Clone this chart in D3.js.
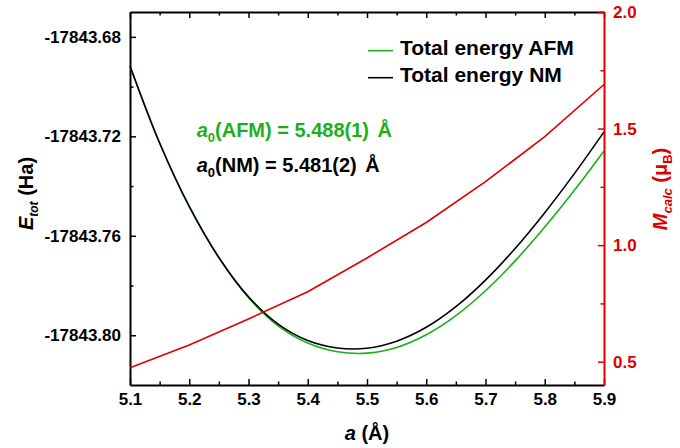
<!DOCTYPE html>
<html>
<head>
<meta charset="utf-8">
<script src="https://cdn.jsdelivr.net/npm/d3@7"></script>
<style>
  html, body { margin: 0; padding: 0; background: #fff; }
  svg { display: block; font-family: "Liberation Sans", Arial, sans-serif; font-weight: bold; }
</style>
</head>
<body>
<svg id="chart" width="680" height="448"></svg>
<script>
// Lattice parameter grid (Å) for the total-energy curves
const latticeA = [5.10, 5.15, 5.20, 5.25, 5.30, 5.35, 5.40, 5.45, 5.50,
                  5.55, 5.60, 5.65, 5.70, 5.75, 5.80, 5.85, 5.90];
// Total energy, non-magnetic (Ha)
const energyNM = [-17843.6917, -17843.7227, -17843.7482, -17843.7687, -17843.7845,
                  -17843.7955, -17843.8021, -17843.8051, -17843.8052, -17843.8024,
                  -17843.7968, -17843.7885, -17843.7778, -17843.7651, -17843.7507,
                  -17843.7350, -17843.7182];
// Total energy, antiferromagnetic (Ha)
const energyAFM = [-17843.6917, -17843.7227, -17843.7483, -17843.7689, -17843.7849,
                   -17843.7962, -17843.8031, -17843.8066, -17843.8072, -17843.8049,
                   -17843.7998, -17843.7921, -17843.7821, -17843.7701, -17843.7565,
                   -17843.7417, -17843.7259];
// Calculated magnetic moment (μB)
const momentA = [5.1, 5.2, 5.3, 5.4, 5.5, 5.6, 5.7, 5.8, 5.9];
const momentCalc = [0.474, 0.572, 0.683, 0.800, 0.945, 1.097, 1.272, 1.465, 1.689];

// Tick values
const xTicks = [5.1, 5.2, 5.3, 5.4, 5.5, 5.6, 5.7, 5.8, 5.9];
const xMinorTicks = [5.15, 5.25, 5.35, 5.45, 5.55, 5.65, 5.75, 5.85];
const energyTicks = [-17843.80, -17843.76, -17843.72, -17843.68];
const energyMinorTicks = [-17843.78, -17843.74, -17843.70];
const momentTicks = [0.5, 1.0, 1.5, 2.0];
const momentMinorTicks = [0.75, 1.25, 1.75];

const legendLabels = ["Total energy AFM", "Total energy NM"];

const GREEN = "#1bb01b";
const BLACK = "#000000";
const RED = "#dd0000";

const L = 130, R = 604, T = 12, B = 385;
const svg = d3.select("#chart");

const x = d3.scaleLinear().domain([5.1, 5.9]).range([L, R]);
const yE = d3.scaleLinear().domain([-17843.82, -17843.67]).range([B, T]);
const yM = d3.scaleLinear().domain([0.4, 2.0]).range([B, T]);

function styleAxis(g, color, fontSize) {
  g.attr("font-family", null).attr("font-size", fontSize).attr("font-weight", "bold");
  g.select(".domain").attr("stroke", color).attr("stroke-width", 2);
  g.selectAll(".tick line").attr("stroke", color).attr("stroke-width", 1.5);
  g.selectAll(".tick text").attr("fill", color);
}
function minor(g, color) {
  g.select(".domain").remove();
  g.selectAll(".tick line").attr("stroke", color).attr("stroke-width", 1.5);
  g.selectAll(".tick text").remove();
}

// Bottom axis
svg.append("g").attr("transform", `translate(0,${B})`)
  .call(d3.axisBottom(x).tickValues(xTicks).tickSizeInner(-6).tickSizeOuter(0)
    .tickPadding(8).tickFormat(d => d.toFixed(1)))
  .call(g => styleAxis(g, BLACK, 17));
svg.append("g").attr("transform", `translate(0,${B})`)
  .call(d3.axisBottom(x).tickValues(xMinorTicks).tickSize(-3.5))
  .call(g => minor(g, BLACK));

// Top frame with ticks
svg.append("g").attr("transform", `translate(0,${T})`)
  .call(d3.axisTop(x).tickValues(xTicks).tickSizeInner(-6).tickSizeOuter(0).tickFormat(() => ""))
  .call(g => styleAxis(g, BLACK, 17));
svg.append("g").attr("transform", `translate(0,${T})`)
  .call(d3.axisTop(x).tickValues(xMinorTicks).tickSize(-3.5))
  .call(g => minor(g, BLACK));

// Left energy axis
svg.append("g").attr("transform", `translate(${L},0)`)
  .call(d3.axisLeft(yE).tickValues(energyTicks).tickSizeInner(-6).tickSizeOuter(0)
    .tickPadding(9).tickFormat(d => d.toFixed(2)))
  .call(g => styleAxis(g, BLACK, 17));
svg.append("g").attr("transform", `translate(${L},0)`)
  .call(d3.axisLeft(yE).tickValues(energyMinorTicks).tickSize(-3.5))
  .call(g => minor(g, BLACK));

// Curves
const energyLine = vals => d3.line()
  .x((d, i) => x(latticeA[i]))
  .y(d => yE(d))
  .curve(d3.curveCatmullRom)(vals);

svg.append("path").attr("d", energyLine(energyAFM))
  .attr("fill", "none").attr("stroke", GREEN).attr("stroke-width", 1.6);
svg.append("path").attr("d", energyLine(energyNM))
  .attr("fill", "none").attr("stroke", BLACK).attr("stroke-width", 1.6);
svg.append("path")
  .attr("d", d3.line().x((d, i) => x(momentA[i])).y(d => yM(d))(momentCalc))
  .attr("fill", "none").attr("stroke", RED).attr("stroke-width", 1.6);

// Right moment axis
svg.append("g").attr("transform", `translate(${R},0)`)
  .call(d3.axisRight(yM).tickValues(momentTicks).tickSizeInner(-6).tickSizeOuter(0)
    .tickPadding(9).tickFormat(d => d.toFixed(1)))
  .call(g => styleAxis(g, RED, 17));
svg.append("g").attr("transform", `translate(${R},0)`)
  .call(d3.axisRight(yM).tickValues(momentMinorTicks).tickSize(-3.5))
  .call(g => minor(g, RED));

// Axis titles
const xt = svg.append("text").attr("x", (L + R) / 2).attr("y", 440)
  .attr("text-anchor", "middle").attr("font-size", 20);
xt.append("tspan").attr("font-style", "italic").text("a");
xt.append("tspan").text(" (Å)");

const lt = svg.append("text").attr("transform", "translate(33,193.5) rotate(-90)")
  .attr("text-anchor", "middle").attr("font-size", 20);
lt.append("tspan").attr("font-style", "italic").text("E");
lt.append("tspan").attr("font-style", "italic").attr("font-size", 12).attr("dy", 5).text("tot");
lt.append("tspan").attr("dy", -5).text(" (Ha)");

const rt = svg.append("text").attr("transform", "translate(667,189) rotate(-90)")
  .attr("text-anchor", "middle").attr("font-size", 20).attr("fill", RED);
rt.append("tspan").attr("font-style", "italic").text("M");
rt.append("tspan").attr("font-style", "italic").attr("font-size", 13).attr("dy", 5).text("calc");
rt.append("tspan").attr("dy", -5).text(" (μ");
rt.append("tspan").attr("font-size", 13).attr("dy", 5).text("B");
rt.append("tspan").attr("dy", -5).text(")");

// Legend
const legendColors = [GREEN, BLACK];
legendLabels.forEach((label, i) => {
  const yy = 50.7 + i * 27;
  svg.append("line").attr("x1", 368).attr("x2", 393).attr("y1", yy).attr("y2", yy)
    .attr("stroke", legendColors[i]).attr("stroke-width", 1.6);
  svg.append("text").attr("x", 400).attr("y", 54.5 + i * 27)
    .attr("font-size", 21).attr("fill", BLACK).text(label);
});

// Equilibrium lattice parameter annotations
const annotations = [
  { label: "AFM", value: "5.488(1)", color: GREEN, y: 137 },
  { label: "NM", value: "5.481(2)", color: BLACK, y: 171.5 }
];
annotations.forEach(a => {
  const t = svg.append("text").attr("x", 196.7).attr("y", a.y)
    .attr("font-size", 20).attr("fill", a.color);
  t.append("tspan").attr("font-style", "italic").text("a");
  t.append("tspan").attr("font-size", 13).attr("dy", 5).text("0");
  t.append("tspan").attr("dy", -5).text(`(${a.label}) = ${a.value} `);
  t.append("tspan").attr("dx", 3).text("Å");
});
</script>
</body>
</html>
